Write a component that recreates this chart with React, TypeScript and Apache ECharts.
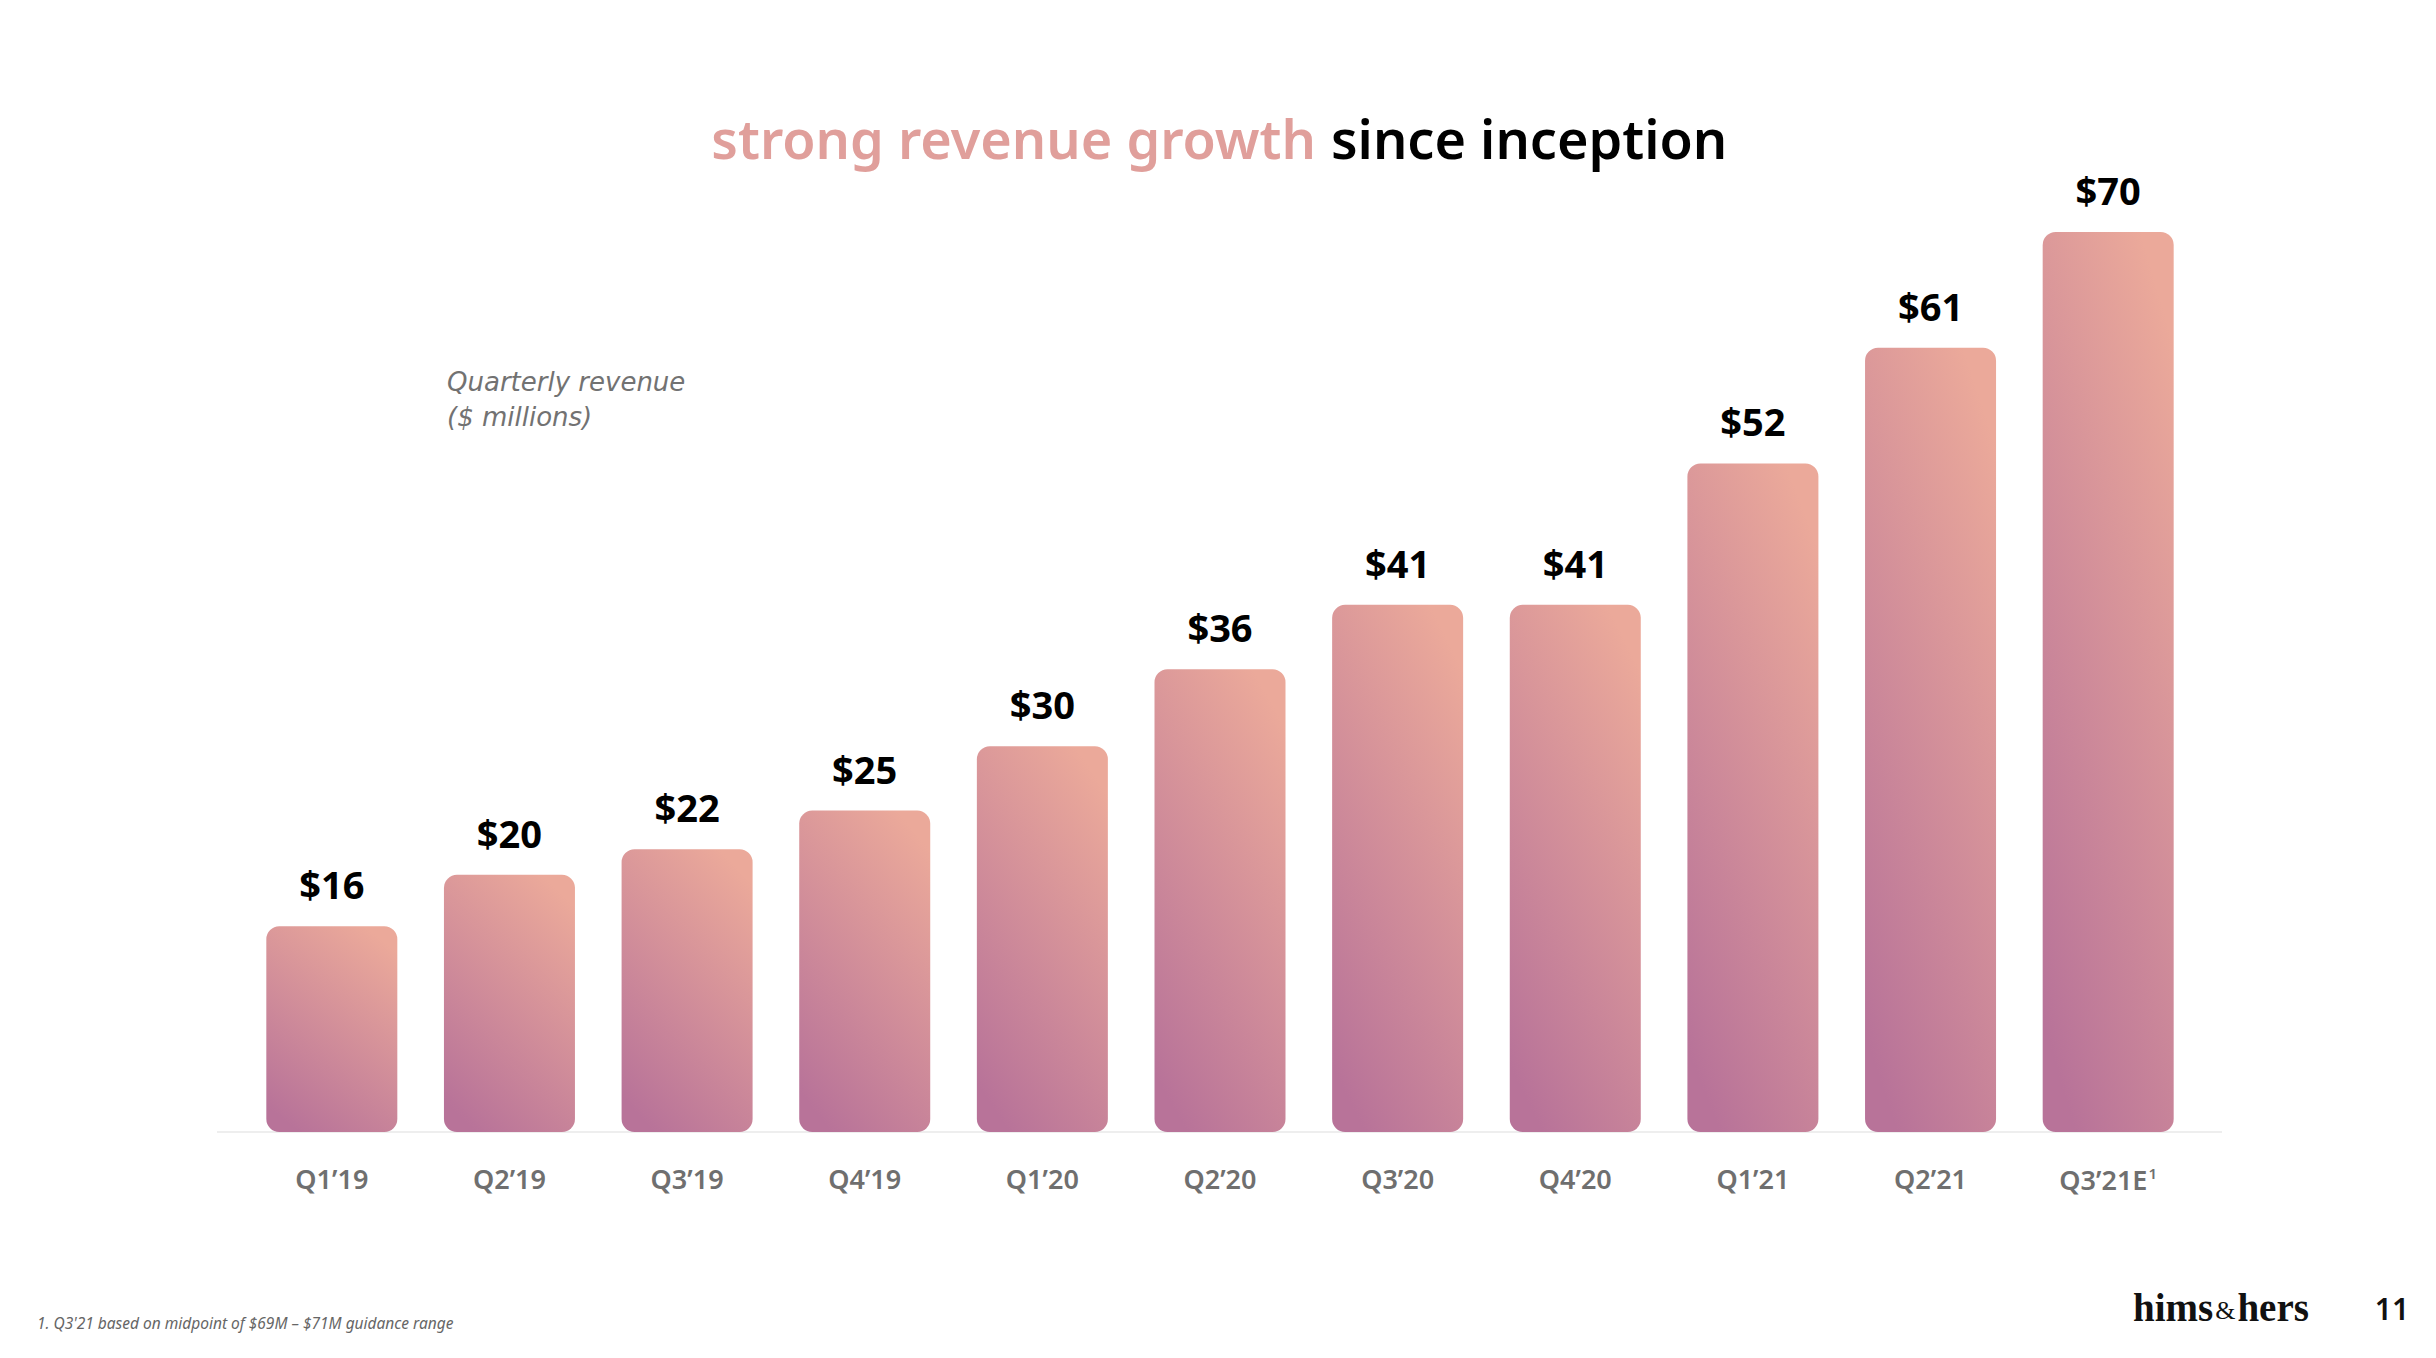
import React, { useEffect, useRef } from "react";
import * as echarts from "echarts";

const categories = ["Q1’19", "Q2’19", "Q3’19", "Q4’19", "Q1’20", "Q2’20", "Q3’20", "Q4’20", "Q1’21", "Q2’21", "Q3’21E"];
const revenue = [16, 20, 22, 25, 30, 36, 41, 41, 52, 61, 70];
const footnoteMarks = ["", "", "", "", "", "", "", "", "", "", "1"];

const titleAccent = "strong revenue growth";
const titleRest = "since inception";
const subtitleLines = ["Quarterly revenue", "($ millions)"];
const footnote = "1. Q3'21 based on midpoint of $69M – $71M guidance range";
const pageNumber = "11";

export default function App() {
  const ref = useRef<HTMLDivElement>(null);

  useEffect(() => {
    if (!ref.current) return;
    const chart = echarts.init(ref.current, null, { renderer: "svg" });

    const barGradient = new echarts.graphic.LinearGradient(0.75, 0, 0.25, 1, [
      { offset: 0, color: "#eba99a" },
      { offset: 1, color: "#b87399" },
    ]);

    const option: any = {
      animation: false,
      backgroundColor: "#ffffff",
      grid: { left: 243, right: 239, top: 232, bottom: 226, containLabel: false },
      xAxis: {
        type: "category",
        data: categories,
        axisLine: { show: false },
        axisTick: { show: false },
        axisLabel: {
          margin: 33,
          interval: 0,
          formatter: (v: string, i: number) =>
            footnoteMarks[i] ? `{a|${v}}{s|${footnoteMarks[i]}}` : `{a|${v}}`,
          rich: {
            a: { fontFamily: "Noto Sans", fontSize: 27, fontWeight: 600, color: "#6f6f6f" },
            s: { fontFamily: "Noto Sans", fontSize: 15, fontWeight: 600, color: "#6f6f6f", verticalAlign: "top", padding: [0, 0, 14, 1] },
          },
        },
      },
      yAxis: {
        type: "value",
        min: 0,
        max: 70,
        show: false,
        splitLine: { show: false },
      },
      series: [
        {
          type: "bar",
          data: revenue,
          barWidth: 131,
          itemStyle: { color: barGradient, borderRadius: 13 },
          label: {
            show: true,
            position: "top",
            distance: 23,
            formatter: (p: any) => "$" + p.value,
            fontFamily: "Noto Sans",
            fontSize: 38,
            fontWeight: "bold",
            color: "#000000",
          },
        },
      ],
      graphic: [
        {
          type: "line",
          z: 0,
          shape: { x1: 217, y1: 1132, x2: 2222, y2: 1132 },
          style: { stroke: "#eeeeee", lineWidth: 2 },
        },
        {
          type: "text",
          x: 1316,
          y: 138,
          style: {
            text: titleAccent,
            fontFamily: "Noto Sans",
            fontSize: 54,
            fontWeight: 600,
            fill: "#e09f9b",
            align: "right",
            verticalAlign: "middle",
          },
        },
        {
          type: "text",
          x: 1331,
          y: 138,
          style: {
            text: titleRest,
            fontFamily: "Noto Sans",
            fontSize: 54,
            fontWeight: 600,
            fill: "#000000",
            align: "left",
            verticalAlign: "middle",
          },
        },
        {
          type: "text",
          x: 447,
          y: 399,
          style: {
            text: subtitleLines.join("\n"),
            fontFamily: "DejaVu Sans",
            fontStyle: "italic",
            fontSize: 26,
            lineHeight: 35,
            fill: "#727272",
            align: "left",
            verticalAlign: "middle",
          },
        },
        {
          type: "text",
          x: 37,
          y: 1323,
          style: {
            text: footnote,
            fontFamily: "Noto Sans",
            fontStyle: "italic",
            fontSize: 15.5,
            fill: "#666666",
            align: "left",
            verticalAlign: "middle",
          },
        },
        {
          type: "text",
          x: 2133,
          y: 1307,
          style: {
            text: "{b|hims}{c|&}{b|hers}",
            align: "left",
            verticalAlign: "middle",
            rich: {
              b: { fontFamily: "Liberation Serif", fontSize: 39, fontWeight: "bold", fill: "#111111" },
              c: { fontFamily: "Liberation Serif", fontSize: 26, fill: "#111111", padding: [6, 2, 0, 2] },
            },
          },
        },
        {
          type: "text",
          x: 2392,
          y: 1308,
          style: {
            text: pageNumber,
            fontFamily: "Noto Sans",
            fontSize: 30,
            fontWeight: 600,
            fill: "#111111",
            align: "center",
            verticalAlign: "middle",
          },
        },
      ],
    };

    chart.setOption(option);
    return () => chart.dispose();
  }, []);

  return (
    <div
      ref={ref}
      style={{ position: "fixed", left: 0, top: 0, width: 2436, height: 1358, background: "#fff" }}
    />
  );
}
